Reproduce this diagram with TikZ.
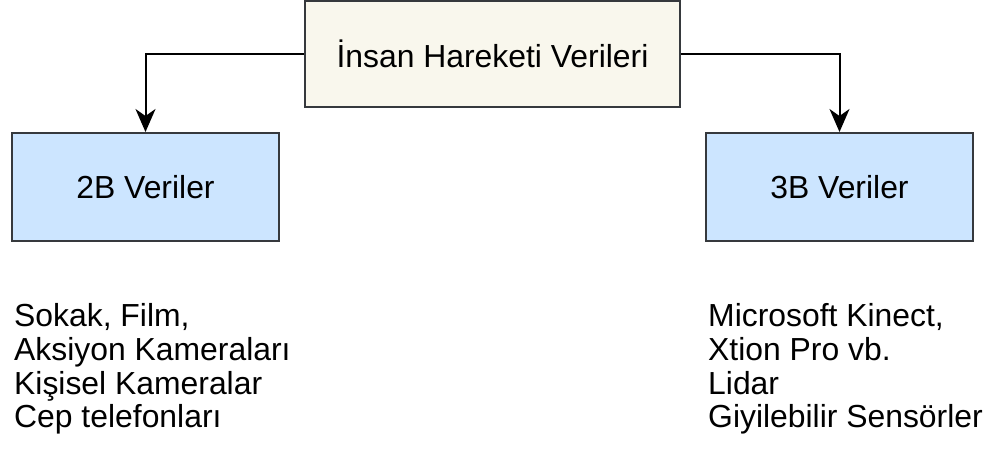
\documentclass[tikz,border=0pt]{standalone}
\usepackage{fontspec}
\setmainfont{Liberation Sans}
\usetikzlibrary{arrows.meta}
\definecolor{boxline}{HTML}{36393D}
\definecolor{rootfill}{HTML}{F9F7ED}
\definecolor{leaffill}{HTML}{CCE5FF}
\begin{document}
\begin{tikzpicture}[x=1bp,y=-1bp,
  box/.style={draw=boxline, line width=2bp, inner sep=0, font=\fontsize{32}{38}\selectfont},
  rootbox/.style={box, fill=rootfill, minimum width=375bp, minimum height=106bp},
  leafbox/.style={box, fill=leaffill, minimum width=267bp, minimum height=108bp},
  link/.style={draw=black, line width=2bp, -{Stealth[length=23bp, width=20bp, inset=7bp]}},
  listtext/.style={anchor=north west, align=left, inner sep=0, font=\fontsize{32}{34}\selectfont}
]
\useasboundingbox[fill=white] (0,0) rectangle (992,454);
\node[rootbox] (root) at (492.5,54) {İnsan Hareketi Verileri};
\node[leafbox] (two) at (145.5,187) {2B Veriler};
\node[leafbox] (three) at (839.5,187) {3B Veriler};
\draw[link] (root.west) -| (two.north);
\draw[link] (root.east) -| (three.north);
\node[listtext] (twolist) at (14,303) {Sokak, Film,\\Aksiyon Kameraları\\Kişisel Kameralar\\Cep telefonları};
\node[listtext] (threelist) at (708,303) {Microsoft Kinect,\\Xtion Pro vb.\\Lidar\\Giyilebilir Sensörler};
\end{tikzpicture}
\end{document}
